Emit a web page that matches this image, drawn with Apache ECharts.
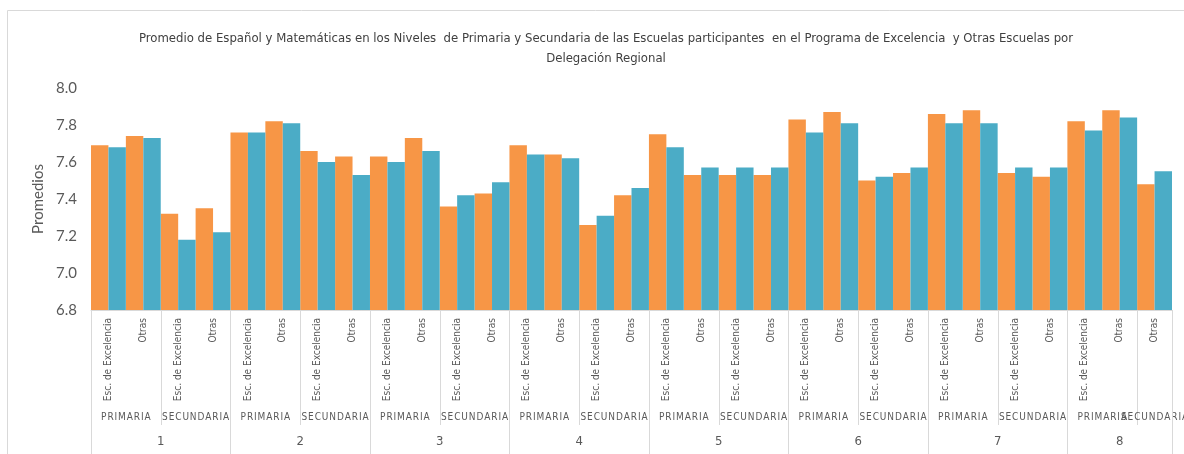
<!DOCTYPE html>
<html>
<head>
<meta charset="utf-8">
<script src="https://cdn.jsdelivr.net/npm/echarts@6/dist/echarts.min.js"></script>
<style>
  html, body { margin: 0; background: #fff; }
  #chart { width: 1184px; height: 454px; }
</style>
</head>
<body>
<div id="chart"></div>
<script>
const regiones = ['1', '2', '3', '4', '5', '6', '7', '8'];
const niveles = ['PRIMARIA', 'SECUNDARIA'];
const escuelas = ['Esc. de Excelencia', 'Otras'];
// region 8 has no "Esc. de Excelencia" bar for secundaria
const faltantes = ['8|SECUNDARIA|Esc. de Excelencia'];

const espanol = [
  7.69, 7.74, 7.32, 7.35,
  7.76, 7.82, 7.66, 7.63,
  7.63, 7.73, 7.36, 7.43,
  7.69, 7.64, 7.26, 7.42,
  7.75, 7.53, 7.53, 7.53,
  7.83, 7.87, 7.50, 7.54,
  7.86, 7.88, 7.54, 7.52,
  7.82, 7.88, 7.48
];
const matematicas = [
  7.68, 7.73, 7.18, 7.22,
  7.76, 7.81, 7.60, 7.53,
  7.60, 7.66, 7.42, 7.49,
  7.64, 7.62, 7.31, 7.46,
  7.68, 7.57, 7.57, 7.57,
  7.76, 7.81, 7.52, 7.57,
  7.81, 7.81, 7.57, 7.57,
  7.77, 7.84, 7.55
];

const yTicks = { min: 6.8, max: 8.0, interval: 0.2 };

const FONT = '"Liberation Sans Narrow", "DejaVu Sans Condensed", sans-serif';
const GREY = '#595959';
const LINE = '#d9d9d9';

// flat category list plus the spans of the two outer label rows
const categorias = [];
const spansNivel = [];
const spansRegion = [];
regiones.forEach(r => {
  const rStart = categorias.length;
  niveles.forEach(n => {
    const nStart = categorias.length;
    escuelas.forEach(e => {
      if (faltantes.indexOf(r + '|' + n + '|' + e) < 0) {
        categorias.push(e);
      }
    });
    spansNivel.push({ start: nStart, end: categorias.length - 1, label: n });
  });
  spansRegion.push({ start: rStart, end: categorias.length - 1, label: r });
});

const spans = spansNivel.map(s => Object.assign({ row: 0 }, s))
  .concat(spansRegion.map(s => Object.assign({ row: 1 }, s)));

function renderSpan(params, api) {
  const s = spans[params.dataIndex];
  const band = api.size([1, 0])[0];
  const x0 = api.coord([s.start, yTicks.min])[0] - band / 2;
  const x1 = api.coord([s.end, yTicks.min])[0] + band / 2;
  const base = params.coordSys.y + params.coordSys.height;
  const lineEnd = s.row === 0 ? base + 115 : base + 150;
  const textY = s.row === 0 ? base + 107 : base + 132;
  const lineStyle = { stroke: LINE, lineWidth: 1 };
  return {
    type: 'group',
    children: [
      { type: 'line', shape: { x1: Math.round(x0) + 0.5, y1: base, x2: Math.round(x0) + 0.5, y2: lineEnd }, style: lineStyle },
      { type: 'line', shape: { x1: Math.round(x1) + 0.5, y1: base, x2: Math.round(x1) + 0.5, y2: lineEnd }, style: lineStyle },
      {
        type: 'text',
        x: (x0 + x1) / 2,
        y: textY,
        style: {
          text: s.row === 0 ? s.label.split('').join('\u200a') : s.label,
          fill: GREY,
          font: (s.row === 0 ? '10px ' : '13px ') + FONT,
          align: 'center',
          verticalAlign: 'middle'
        }
      }
    ]
  };
}

const chart = echarts.init(document.getElementById('chart'));

chart.setOption({
  animation: false,
  title: {
    text: 'Promedio de Español y Matemáticas en los Niveles  de Primaria y Secundaria de las Escuelas participantes  en el Programa de Excelencia  y Otras Escuelas por\nDelegación Regional',
    left: 601,
    top: 24,
    textAlign: 'center',
    textStyle: {
      fontFamily: FONT,
      fontSize: 13,
      fontWeight: 'normal',
      color: '#404040',
      lineHeight: 20
    }
  },
  graphic: [{
    type: 'line',
    shape: { x1: 7.5, y1: 10.5, x2: 7.5, y2: 454 },
    style: { stroke: LINE, lineWidth: 1 },
    silent: true
  }, {
    type: 'line',
    shape: { x1: 7.5, y1: 10.5, x2: 1184, y2: 10.5 },
    style: { stroke: LINE, lineWidth: 1 },
    silent: true
  }],
  grid: {
    left: 91,
    right: 12,
    top: 88,
    bottom: 144
  },
  xAxis: {
    type: 'category',
    data: categorias,
    axisLine: { lineStyle: { color: LINE } },
    axisTick: { show: false },
    axisLabel: {
      rotate: 90,
      interval: 0,
      margin: 8,
      color: GREY,
      fontFamily: FONT,
      fontSize: 10
    }
  },
  yAxis: {
    type: 'value',
    min: yTicks.min,
    max: yTicks.max,
    interval: yTicks.interval,
    name: 'Promedios',
    nameLocation: 'middle',
    nameGap: 44,
    nameTextStyle: { color: GREY, fontFamily: 'Lato, sans-serif', fontSize: 15 },
    axisLine: { show: false },
    axisTick: { show: false },
    splitLine: { show: false },
    axisLabel: {
      color: GREY,
      fontFamily: 'Lato, sans-serif',
      fontSize: 15,
      margin: 14,
      formatter: v => v.toFixed(1)
    }
  },
  series: [{
    name: 'Español',
    type: 'bar',
    data: espanol,
    barGap: '0%',
    barCategoryGap: '0%',
    itemStyle: { color: '#f79646' }
  }, {
    name: 'Matemáticas',
    type: 'bar',
    data: matematicas,
    barGap: '0%',
    barCategoryGap: '0%',
    itemStyle: { color: '#4bacc6' }
  }, {
    type: 'custom',
    silent: true,
    clip: false,
    renderItem: renderSpan,
    data: spans.map(s => [s.start, yTicks.min])
  }]
});
</script>
</body>
</html>
